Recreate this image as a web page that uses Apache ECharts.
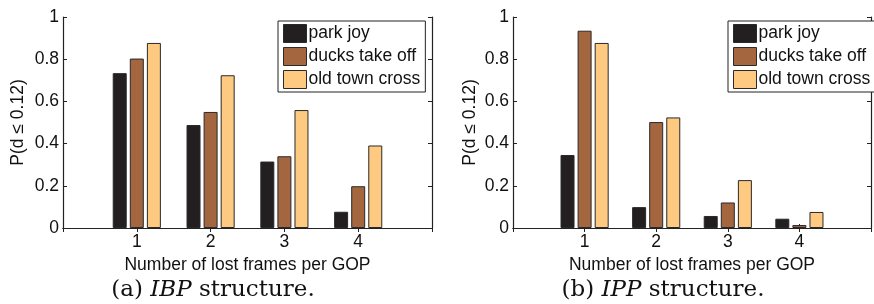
<!DOCTYPE html>
<html>
<head>
<meta charset="utf-8">
<script src="https://cdn.jsdelivr.net/npm/echarts@6/dist/echarts.min.js"></script>
<style>
  html, body { margin: 0; padding: 0; background: #fff; }
  #chart { width: 874px; height: 304px; }
</style>
</head>
<body>
<div id="chart"></div>
<script>
// category slots 0..5, bars only at 1..4 (MATLAB style x range)
const categories = ['', '1', '2', '3', '4', '']
const seriesNames = ['park joy', 'ducks take off', 'old town cross']
const colors = ['#231f20', '#a3663f', '#fec980']

// (a) IBP structure
const ibpParkJoy = [null, 0.734, 0.488, 0.315, 0.077, null]
const ibpDucks = [null, 0.803, 0.550, 0.340, 0.198, null]
const ibpOldTown = [null, 0.877, 0.724, 0.559, 0.391, null]

// (b) IPP structure
const ippParkJoy = [null, 0.346, 0.099, 0.057, 0.044, null]
const ippDucks = [null, 0.935, 0.502, 0.121, 0.014, null]
const ippOldTown = [null, 0.877, 0.524, 0.227, 0.076, null]

const yTicks = { min: 0, max: 1, interval: 0.2 }

const chart = echarts.init(document.getElementById('chart'))
const axisColor = '#222'
const fontSans = 'Liberation Sans'
const fs = 17.5

function xAxes(gridIndex) {
    return [{
        type: 'category',
        gridIndex: gridIndex,
        data: categories,
        boundaryGap: false,
        position: 'bottom',
        axisLine: { lineStyle: { color: axisColor, width: 1.2 } },
        axisTick: { inside: true, length: 4, lineStyle: { color: axisColor } },
        axisLabel: { color: '#111', fontSize: fs, fontFamily: fontSans, margin: 5, interval: 0 },
        name: 'Number of lost frames per GOP',
        nameLocation: 'middle',
        nameGap: 21,
        nameTextStyle: { color: '#111', fontSize: fs, fontFamily: fontSans },
        splitLine: { show: false }
    }, {
        type: 'category',
        gridIndex: gridIndex,
        data: categories,
        boundaryGap: false,
        position: 'top',
        axisLine: { lineStyle: { color: axisColor, width: 1.2 } },
        axisTick: { inside: true, length: 4, lineStyle: { color: axisColor } },
        axisLabel: { show: false },
        splitLine: { show: false }
    }]
}

function yAxes(gridIndex, gap) {
    return [{
        type: 'value',
        gridIndex: gridIndex,
        min: yTicks.min,
        max: yTicks.max,
        interval: yTicks.interval,
        position: 'left',
        axisLine: { show: true, lineStyle: { color: axisColor, width: 1.2 } },
        axisTick: { show: true, inside: true, length: 4, lineStyle: { color: axisColor } },
        axisLabel: { color: '#111', fontSize: fs, fontFamily: fontSans, margin: 4 },
        name: 'P(d ≤ 0.12)',
        nameLocation: 'middle',
        nameGap: gap,
        nameTextStyle: { color: '#111', fontSize: fs, fontFamily: fontSans },
        splitLine: { show: false }
    }, {
        type: 'value',
        gridIndex: gridIndex,
        min: yTicks.min,
        max: yTicks.max,
        interval: yTicks.interval,
        position: 'right',
        axisLine: { show: true, lineStyle: { color: axisColor, width: 1.2 } },
        axisTick: { show: true, inside: true, length: 4, lineStyle: { color: axisColor } },
        axisLabel: { show: false },
        splitLine: { show: false }
    }]
}

function barSeries(gridIndex, dataSets) {
    return dataSets.map((d, i) => ({
        name: seriesNames[i],
        type: 'bar',
        xAxisIndex: gridIndex * 2,
        yAxisIndex: gridIndex * 2,
        data: d,
        barWidth: 14,
        barGap: '22%',
        itemStyle: { color: colors[i], borderColor: '#2a2a2a', borderWidth: 1, borderRadius: 0 },
        emphasis: { disabled: true }
    }))
}

function legend(left) {
    return {
        orient: 'vertical',
        left: left,
        top: 21,
        icon: 'rect',
        itemWidth: 23,
        itemHeight: 18,
        itemGap: 4,
        padding: [3, 5, 3, 5],
        borderColor: '#222',
        borderWidth: 1,
        borderRadius: 0,
        backgroundColor: '#fff',
        itemStyle: { borderColor: '#2a2a2a', borderWidth: 1, borderRadius: 0, borderJoin: 'miter' },
        data: seriesNames.map(n => ({ name: n, icon: 'rect' })),
        textStyle: { color: '#111', fontSize: fs, fontFamily: fontSans, padding: [0, 0, 0, -3] },
        selectedMode: false
    }
}

function caption(text, x) {
    return {
        text: text,
        left: x,
        top: 274,
        textAlign: 'center',
        textStyle: {
            fontFamily: 'DejaVu Serif', fontSize: 23, fontWeight: 'normal', color: '#111',
            rich: { i: { fontFamily: 'DejaVu Serif', fontStyle: 'italic', fontSize: 23, color: '#111' } }
        }
    }
}

const option = {
    animation: false,
    color: colors,
    grid: [
        { left: 63, top: 17, width: 369, height: 211 },
        { left: 513, top: 17, width: 368, height: 211 }
    ],
    xAxis: xAxes(0).concat(xAxes(1)),
    yAxis: yAxes(0, 36).concat(yAxes(1, 34)),
    legend: [legend(278), legend(728)],
    title: [caption('(a) {i|IBP} structure.', 208), caption('(b) {i|IPP} structure.', 658)],
    series: barSeries(0, [ibpParkJoy, ibpDucks, ibpOldTown])
        .concat(barSeries(1, [ippParkJoy, ippDucks, ippOldTown]))
}

chart.setOption(option)
</script>
</body>
</html>
